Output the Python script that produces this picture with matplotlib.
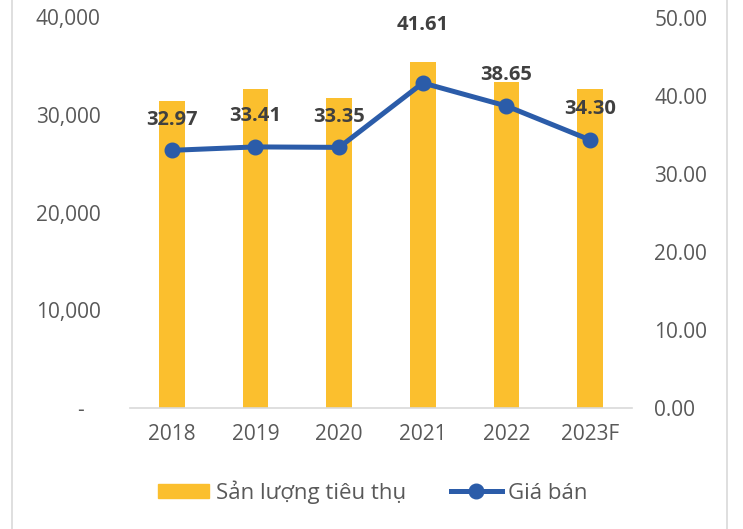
import numpy as np
import matplotlib.pyplot as plt
from matplotlib.lines import Line2D
from matplotlib.ticker import FuncFormatter

# data
years = ['2018', '2019', '2020', '2021', '2022', '2023F']
san_luong = [31400, 32700, 31700, 35400, 33400, 32700]
gia_ban = [32.97, 33.41, 33.35, 41.61, 38.65, 34.30]

bar_color = '#FBBF2E'
line_color = '#2B5CA9'
text_color = '#595959'

plt.rcParams['font.family'] = ['Open Sans', 'DejaVu Sans']

fig = plt.figure(figsize=(7.43, 5.29), dpi=100)
ax = fig.add_axes([130 / 743, 1 - 407.5 / 529, 502 / 743, 390 / 529])
x = np.arange(len(years))

ax.bar(x, san_luong, width=0.31, color=bar_color, zorder=1)
ax.set_xlim(-0.5, len(years) - 0.5)
ax.set_ylim(0, 40000)
ax.set_yticks([0, 10000, 20000, 30000, 40000])
ax.yaxis.set_major_formatter(FuncFormatter(lambda v, p: '-   ' if v == 0 else f'{v:,.0f}'))
ax.set_xticks(x)
ax.set_xticklabels(years)

ax2 = ax.twinx()
ax2.plot(x, gia_ban, color=line_color, lw=3.6, marker='o', ms=10.5, zorder=3)
ax2.set_ylim(0, 50)
ax2.set_yticks(np.arange(0, 51, 10))
ax2.yaxis.set_major_formatter(FuncFormatter(lambda v, p: f'{v:.2f}'))

# data labels (2021 label sits higher)
offsets = [22, 22, 22, 42, 22, 22]
for xi, v, off in zip(x, gia_ban, offsets):
    ax2.annotate(f'{v:.2f}', (xi, v), xytext=(0, off), textcoords='offset points',
                 ha='center', va='center', fontsize=14.5, fontweight='bold', color='#404040')

for a in (ax, ax2):
    for s in ['top', 'left', 'right']:
        a.spines[s].set_visible(False)
    a.tick_params(length=0, labelsize=15, colors=text_color)
ax.spines['bottom'].set_color('#D9D9D9')
ax.spines['bottom'].set_linewidth(1.2)
ax2.spines['bottom'].set_visible(False)
ax.tick_params(axis='y', pad=21)
ax2.tick_params(axis='y', pad=16)
ax.tick_params(axis='x', pad=12)

# chart frame lines
fig.add_artist(Line2D([12 / 743, 12 / 743], [0, 1], color='#D9D9D9', lw=1.2))
fig.add_artist(Line2D([727 / 743, 727 / 743], [0, 1], color='#D9D9D9', lw=1.2))

handles = [plt.Rectangle((0, 0), 1, 1, color=bar_color),
           Line2D([], [], color=line_color, lw=3.6, marker='o', ms=10.5)]
fig.legend(handles, ['Sản lượng tiêu thụ', 'Giá bán'], loc='center',
           bbox_to_anchor=(373 / 743, 1 - 492 / 529), ncol=2, frameon=False,
           fontsize=16, labelcolor=text_color, handlelength=2.3, handleheight=0.6,
           columnspacing=2.0, handletextpad=0.3)

plt.savefig('out.png', dpi=100)
